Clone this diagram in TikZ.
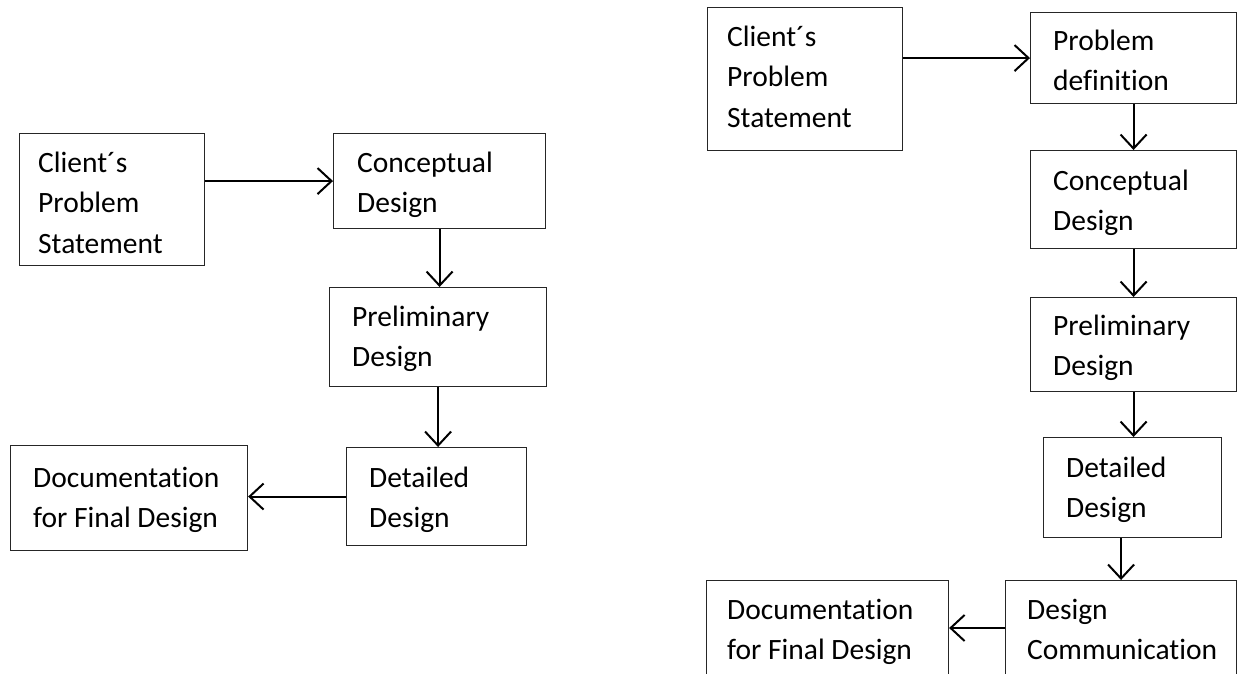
\documentclass[tikz,border=0pt]{standalone}
\usepackage{fontspec}
\setmainfont[Ligatures=NoCommon]{Carlito}
\usetikzlibrary{arrows.meta,calc}
\begin{document}
\begin{tikzpicture}[x=1pt,y=-1pt,
  box/.style={draw=black!85, line width=1.1pt, rectangle, inner sep=0pt, anchor=north west},
  txt/.style={anchor=base west, inner sep=0pt, font=\fontsize{29.5}{40.5}\selectfont},
  flow/.style={line width=2pt, -{Straight Barb[length=14pt,width=26pt,line width=2pt]}}]
\useasboundingbox (0,0) rectangle (1243,673);
\clip (0,0) rectangle (1243,673);
\fill[white] (0,0) rectangle (1243,673);
\newcommand{\lines}[1]{\begin{tabular}[t]{@{}l@{}}#1\end{tabular}}
% ---------- left diagram ----------
\node[box, minimum width=185pt, minimum height=132pt] (lc) at (19,133) {};
\node[box, minimum width=212pt, minimum height=95pt] (lcon) at (333,133) {};
\node[box, minimum width=217pt, minimum height=99pt] (lpre) at (329,287) {};
\node[box, minimum width=180pt, minimum height=98pt] (ldet) at (346,447) {};
\node[box, minimum width=237pt, minimum height=105pt] (ldoc) at (10,445) {};
\node[txt] (lct) at (38,172) {\lines{Client´s\\Problem\\Statement}};
\node[txt] (lcont) at (357,172) {\lines{Conceptual\\Design}};
\node[txt] (lpret) at (352,326) {\lines{Preliminary\\Design}};
\node[txt] (ldett) at (369,487) {\lines{Detailed\\Design}};
\node[txt] (ldoct) at (33,487) {\lines{Documentation\\for Final Design}};
\draw[flow] (lc.east |- lcon.west) -- (lcon.west);
\draw[flow] (lcon.south) -- (lcon.south |- lpre.north);
\draw[flow] (lpre.south) -- (lpre.south |- ldet.north);
\draw[flow] (ldet.west) -- (ldet.west -| ldoc.east);
% ---------- right diagram ----------
\node[box, minimum width=195pt, minimum height=143pt] (rc) at (707,7) {};
\node[box, minimum width=206pt, minimum height=91pt] (rpd) at (1030,12) {};
\node[box, minimum width=206pt, minimum height=98pt] (rcon) at (1030,150) {};
\node[box, minimum width=206pt, minimum height=94pt] (rpre) at (1030,297) {};
\node[box, minimum width=178pt, minimum height=100pt] (rdet) at (1043,437) {};
\node[box, minimum width=231pt, minimum height=110pt] (rdc) at (1005,580) {};
\node[box, minimum width=242pt, minimum height=110pt] (rdoc) at (706,580) {};
\node[txt] (rct) at (727,46) {\lines{Client´s\\Problem\\Statement}};
\node[txt] (rpdt) at (1053,50) {\lines{Problem\\definition}};
\node[txt] (rcont) at (1053,190) {\lines{Conceptual\\Design}};
\node[txt] (rpret) at (1053,335) {\lines{Preliminary\\Design}};
\node[txt] (rdett) at (1066,477) {\lines{Detailed\\Design}};
\node[txt] (rdct) at (1027,619) {\lines{Design\\Communication}};
\node[txt] (rdoct) at (727,619) {\lines{Documentation\\for Final Design}};
\draw[flow] (rc.east |- rpd.west) -- (rpd.west);
\draw[flow] (rpd.south) -- (rpd.south |- rcon.north);
\draw[flow] (rcon.south) -- (rcon.south |- rpre.north);
\draw[flow] (rpre.south) -- (rpre.south |- rdet.north);
\draw[flow] (rdc.north |- rdet.south) -- (rdc.north);
\coordinate (rdcin) at ($(rdc.north west)+(0,48)$);
\draw[flow] (rdcin) -- (rdcin -| rdoc.east);
\end{tikzpicture}
\end{document}
